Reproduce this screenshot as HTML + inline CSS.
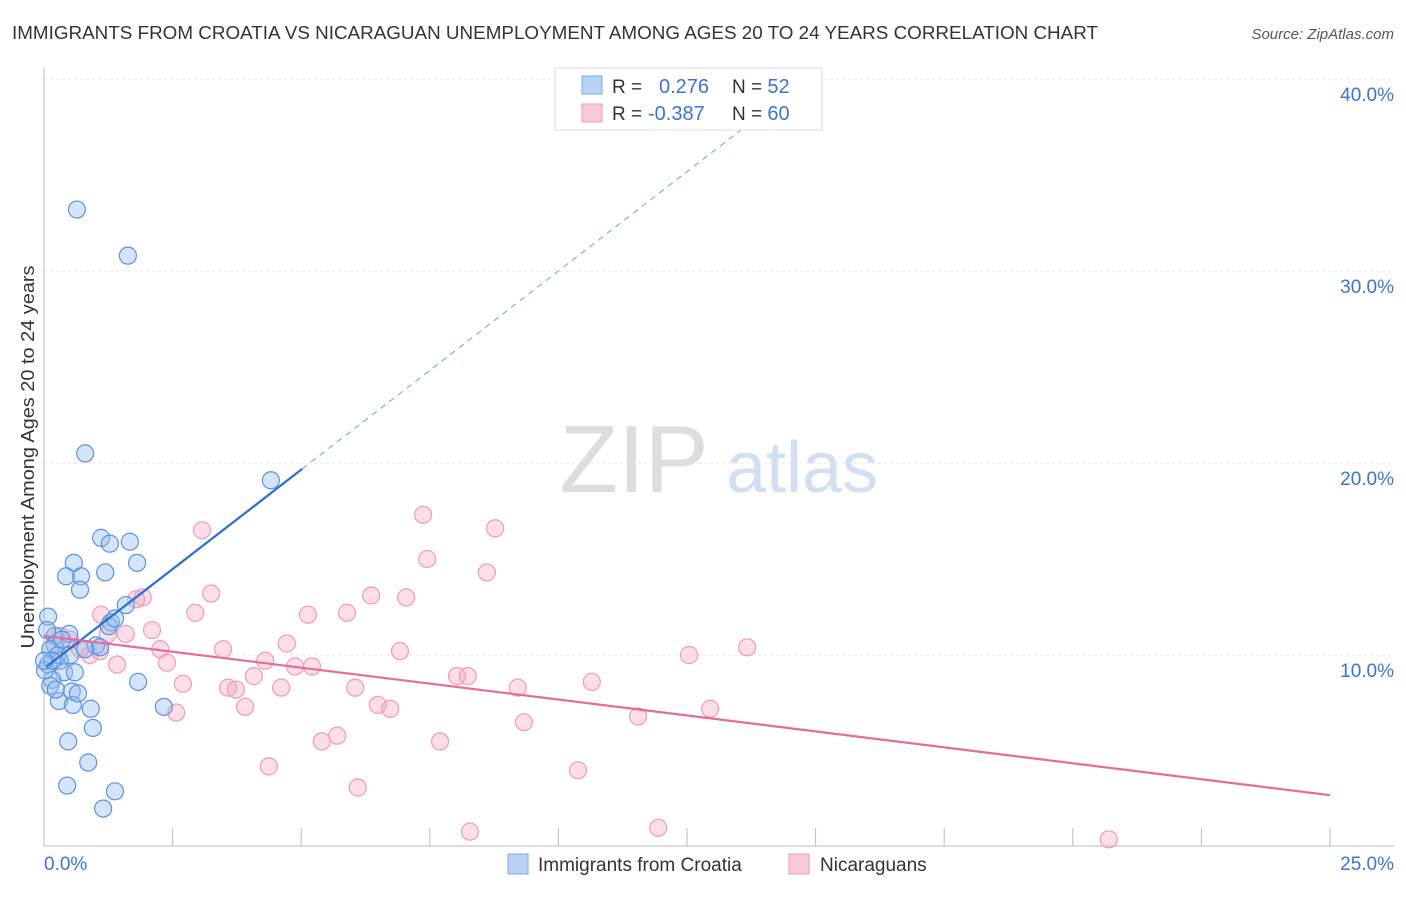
<!DOCTYPE html>
<html><head><meta charset="utf-8"><style>
body{margin:0;background:#fff;font-family:"Liberation Sans",sans-serif}
svg text{font-family:"Liberation Sans",sans-serif}
</style></head><body>
<svg id="chart" width="1406" height="892">
<text x="12" y="39" font-size="18" fill="#333" textLength="1086" lengthAdjust="spacingAndGlyphs">IMMIGRANTS FROM CROATIA VS NICARAGUAN UNEMPLOYMENT AMONG AGES 20 TO 24 YEARS CORRELATION CHART</text>
<text x="1394" y="39" font-size="15" fill="#555" font-style="italic" text-anchor="end">Source: ZipAtlas.com</text>
<text x="634" y="492" font-size="96" fill="#ddd" font-family="Liberation Serif" text-anchor="middle">ZIP</text>
<text x="802" y="492" font-size="72" fill="#d0dff2" text-anchor="middle">atlas</text>
<g id="grid"></g><g id="axes"></g><g id="pink"></g><g id="blue"></g><g id="trend"></g>
<text transform="translate(34,457) rotate(-90)" font-size="18" fill="#333" text-anchor="middle" textLength="383" lengthAdjust="spacingAndGlyphs">Unemployment Among Ages 20 to 24 years</text>
<g>
<rect x="555" y="68" width="267" height="62" fill="#fff" stroke="#ddd"/>
<rect x="582" y="76" width="20" height="18" fill="#b9d3f5" stroke="#7aa8e6"/>
<rect x="582" y="104" width="20" height="18" fill="#f8c9d8" stroke="#ee9ab6"/>
<text x="612" y="93" font-size="19" fill="#333">R = <tspan fill="#3a74d4" x="659" font-size="20">0.276</tspan><tspan fill="#333" x="732">N = </tspan><tspan fill="#3a74d4" font-size="20">52</tspan></text>
<text x="612" y="120" font-size="19" fill="#333">R = <tspan fill="#3a74d4" x="648" font-size="20">-0.387</tspan><tspan fill="#333" x="732">N = </tspan><tspan fill="#3a74d4" font-size="20">60</tspan></text>
</g>
<g>
<rect x="508" y="854" width="20" height="20" fill="#b9d3f5" stroke="#7aa8e6"/>
<text x="538" y="871" font-size="19" fill="#333">Immigrants from Croatia</text>
<rect x="789" y="854" width="20" height="20" fill="#f8c9d8" stroke="#ee9ab6"/>
<text x="820" y="871" font-size="19" fill="#333">Nicaraguans</text>
</g>
</svg>
<script>
const xTicks=[0,2.5,5,7.5,10,12.5,15,17.5,20,22.5,25];
const yTicks=[10,20,30,40];
const yTickLabels=["10.0%","20.0%","30.0%","40.0%"];
const xEndLabels=["0.0%","25.0%"];
const blueX=[0.64,1.63,0.80,4.41,1.11,1.28,1.67,0.58,1.81,0.43,0.72,1.19,0.70,0.08,1.59,1.30,1.26,0.21,0.49,1.01,0.21,0.12,0.31,0.08,0.39,0.60,0.16,0.12,0.54,0.29,0.56,0.66,0.91,1.83,2.33,0.95,0.47,0.86,0.45,1.38,1.15,0.06,0.27,0.35,0.02,0.16,0.51,1.09,0.80,0.23,1.38,0.0];
const blueY=[33.2,30.8,20.5,19.1,16.1,15.8,15.9,14.8,14.8,14.1,14.1,14.3,13.4,12.0,12.6,11.7,11.5,11.0,11.1,10.5,10.5,10.3,9.7,9.5,9.1,9.1,8.7,8.4,8.1,7.6,7.4,8.0,7.2,8.6,7.3,6.2,5.5,4.4,3.2,2.9,2.0,11.3,10.0,10.8,9.2,9.7,10.0,10.4,10.3,8.2,11.9,9.7];
const pinkX=[3.07,7.37,8.77,7.45,8.61,3.25,6.36,7.04,1.92,1.79,2.94,1.11,5.13,5.89,2.10,1.59,1.24,4.72,3.48,2.26,6.92,13.67,12.54,0.89,0.51,0.70,2.39,1.42,4.30,4.88,5.21,4.08,2.70,3.58,3.73,4.61,6.05,8.03,8.24,9.21,10.65,2.57,3.91,6.49,6.73,12.95,11.55,9.33,5.40,5.70,7.70,4.37,10.38,6.10,8.28,11.94,20.70,0.31,1.09,0.21];
const pinkY=[16.5,17.3,16.6,15.0,14.3,13.2,13.1,13.0,13.0,12.9,12.2,12.1,12.1,12.2,11.3,11.1,11.1,10.6,10.3,10.3,10.2,10.4,10.0,10.0,10.8,10.3,9.6,9.5,9.7,9.4,9.4,8.9,8.5,8.3,8.2,8.3,8.3,8.9,8.9,8.3,8.6,7.0,7.3,7.4,7.2,7.2,6.8,6.5,5.5,5.8,5.5,4.2,4.0,3.1,0.8,1.0,0.4,11.0,10.2,10.5];
const blueTrend=[9.3,2.07];
const pinkTrend=[11.0,-0.332];
const NS="http://www.w3.org/2000/svg";
const sx=v=>44+v*51.44, sy=v=>847-v*19.2;
function mk(tag,attrs,parent){const e=document.createElementNS(NS,tag);for(const k in attrs)e.setAttribute(k,attrs[k]);document.getElementById(parent).appendChild(e);return e;}
yTicks.forEach((t,i)=>{
 const l=mk('line',{x1:44,x2:1394,y1:sy(t),y2:sy(t),stroke:'#e4e4e4','stroke-dasharray':'3,3'},'grid');
 
 
 const tx=mk('text',{x:1394,y:sy(t)+22,'font-size':19,fill:'#3a74d4','text-anchor':'end'},'grid');
 tx.textContent=yTickLabels[i];
 
 
});
const ax=mk('line',{x1:44,x2:44,y1:68,y2:846,stroke:'#bbb'},'axes');


const bx=mk('line',{x1:44,x2:1394,y1:846,y2:846,stroke:'#bbb'},'axes');


xTicks.forEach(t=>{const l=mk('line',{x1:sx(t),x2:sx(t),y1:828,y2:846,stroke:'#bbb'},'axes');
 
 });
[[0,'start',44],[1,'end',1394]].forEach(([i,a,x])=>{const t=mk('text',{x:x,y:870,'font-size':19,fill:'#3a74d4','text-anchor':a},'axes');t.textContent=xEndLabels[i];
 
 });
pinkX.forEach((x,i)=>{const c=mk('circle',{cx:sx(x),cy:sy(pinkY[i]),r:8.5,fill:'rgba(244,160,188,0.35)',stroke:'#ef9ab6','stroke-width':1.2},'pink');
 
 });
blueX.forEach((x,i)=>{const c=mk('circle',{cx:sx(x),cy:sy(blueY[i]),r:8.5,fill:'rgba(150,190,240,0.4)',stroke:'#5a92de','stroke-width':1.2},'blue');
 
 });
const bt=mk('line',{x1:sx(0.05),y1:sy(blueTrend[0]+blueTrend[1]*0.05),x2:sx(5.02),y2:sy(blueTrend[0]+blueTrend[1]*5.02),stroke:'#2a6fd6','stroke-width':2.2},'trend');


const bd=mk('line',{x1:sx(5.02),y1:sy(blueTrend[0]+blueTrend[1]*5.02),x2:sx(13.6),y2:sy(blueTrend[0]+blueTrend[1]*13.6),stroke:'#6f9fe0','stroke-width':1,'stroke-dasharray':'6,5'},'trend');


const pt=mk('line',{x1:sx(0),y1:sy(pinkTrend[0]),x2:sx(25),y2:sy(pinkTrend[0]+pinkTrend[1]*25),stroke:'#e86a98','stroke-width':2.2},'trend');


</script>
</body></html>
